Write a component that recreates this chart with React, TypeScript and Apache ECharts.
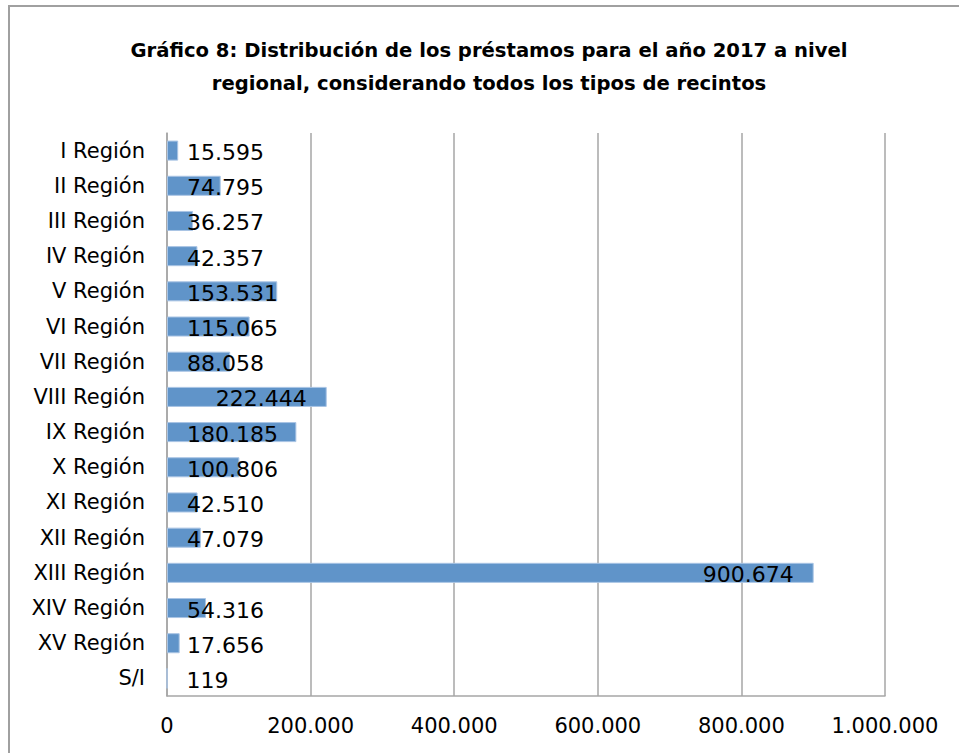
import React, { useEffect, useRef } from "react";
import * as echarts from "echarts";

const categories = [
  "I Región", "II Región", "III Región", "IV Región", "V Región", "VI Región",
  "VII Región", "VIII Región", "IX Región", "X Región", "XI Región", "XII Región",
  "XIII Región", "XIV Región", "XV Región", "S/I",
];
const values = [
  15595, 74795, 36257, 42357, 153531, 115065, 88058, 222444, 180185, 100806,
  42510, 47079, 900674, 54316, 17656, 119,
];
const xTicks = [0, 200000, 400000, 600000, 800000, 1000000];
const titleText =
  "Gráfico 8: Distribución de los préstamos para el año 2017 a nivel\nregional, considerando todos los tipos de recintos";

const fmt = (v: number) => String(Math.round(v)).replace(/\B(?=(\d{3})+(?!\d))/g, ".");

export default function App() {
  const ref = useRef<HTMLDivElement>(null);
  useEffect(() => {
    if (!ref.current) return;
    const chart = echarts.init(ref.current, undefined, { renderer: "svg" });
    const grid = "#a6a6a6";
    const font = "'DejaVu Sans', sans-serif";
    chart.setOption({
      animation: false,
      backgroundColor: "#ffffff",
      graphic: [
        {
          type: "rect",
          shape: { x: 9, y: 6, width: 1200, height: 1200 },
          style: { fill: "none", stroke: "#a0a0a0", lineWidth: 2 },
          silent: true,
        },
        {
          type: "text",
          x: 489,
          y: 34,
          style: {
            text: titleText,
            font: "bold 19.6px 'DejaVu Sans', sans-serif",
            fill: "#000",
            textAlign: "center",
            lineHeight: 33,
          },
        },
      ],
      grid: { left: 167, right: 74, top: 133, bottom: 57, containLabel: false },
      xAxis: {
        type: "value",
        min: xTicks[0],
        max: xTicks[xTicks.length - 1],
        interval: xTicks[1] - xTicks[0],
        axisLine: { show: true, lineStyle: { color: grid, width: 1.5 } },
        axisTick: { show: false },
        splitLine: { show: true, lineStyle: { color: grid, width: 1.5 } },
        axisLabel: {
          formatter: (v: number) => fmt(v),
          color: "#000",
          fontFamily: font,
          fontSize: 21,
          margin: 19,
        },
      },
      yAxis: {
        type: "category",
        data: categories,
        inverse: true,
        axisLine: { show: true, lineStyle: { color: grid, width: 1.5 } },
        axisTick: { show: false },
        axisLabel: {
          color: "#000",
          fontFamily: font,
          fontSize: 21,
          margin: 22,
          padding: [6, 0, 0, 0],
        },
      },
      series: [
        {
          type: "bar",
          barCategoryGap: "43%",
          data: values.map((v) => ({
            value: v,
            label: {
              position: v > 185000 ? "insideRight" : "insideLeft",
            },
          })),
          itemStyle: { color: "#6094c9", borderColor: "#a9c4e4", borderWidth: 1 },
          label: {
            show: true,
            distance: 20,
            offset: [0, 2],
            formatter: (p: any) => fmt(p.value),
            color: "#000",
            fontFamily: font,
            fontSize: 22,
          },
        },
      ],
    });
    return () => chart.dispose();
  }, []);
  return (
    <div
      ref={ref}
      style={{ position: "absolute", left: 0, top: 0, width: 959, height: 753 }}
    />
  );
}
